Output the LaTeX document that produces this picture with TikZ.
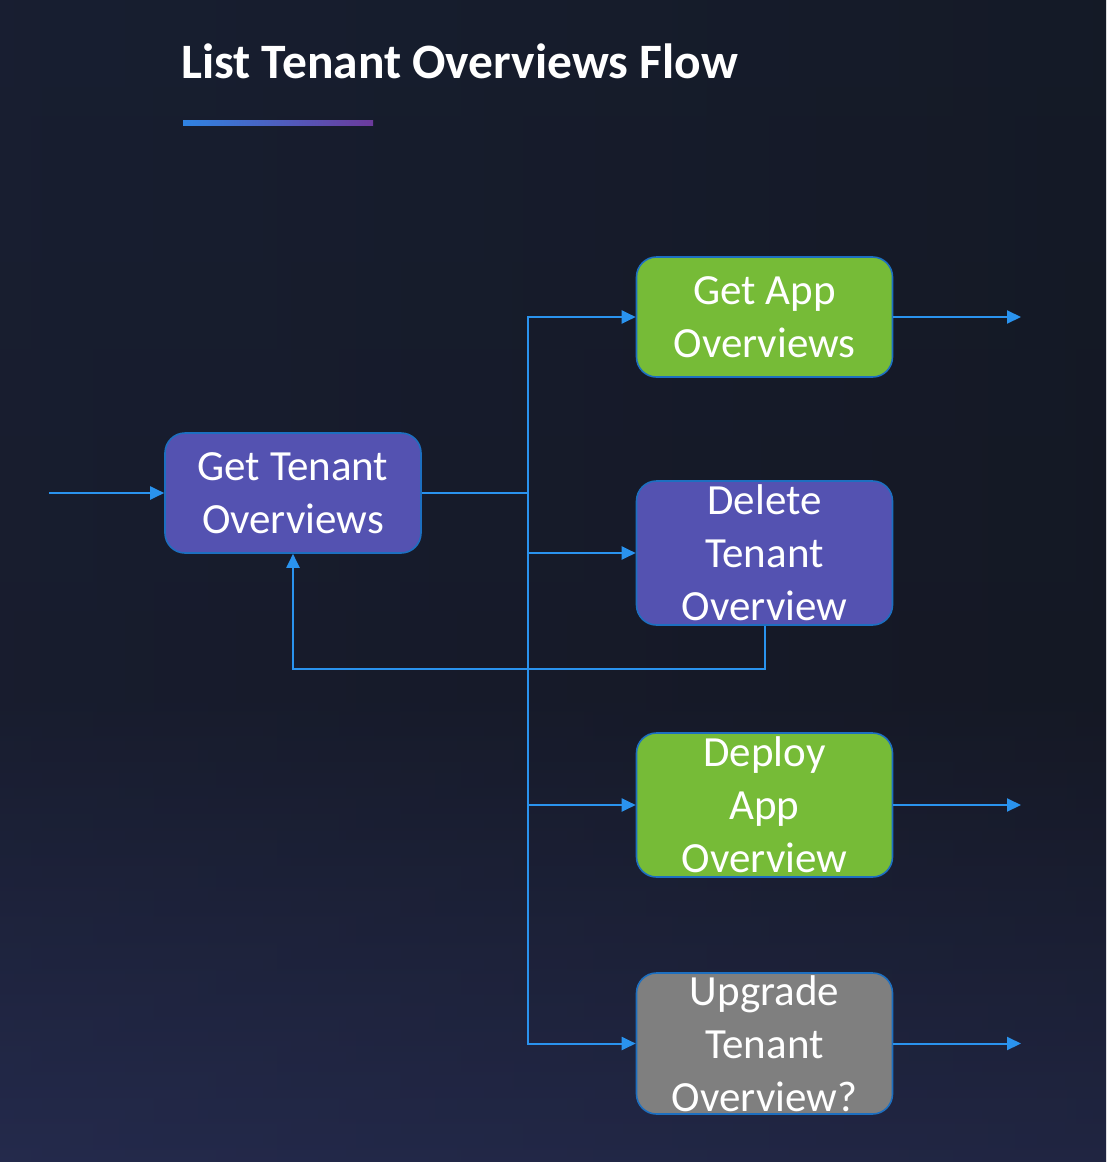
\documentclass[tikz,border=0pt]{standalone}
\usepackage{fontspec}
\setmainfont{Carlito}
\usetikzlibrary{arrows.meta}
\definecolor{bgtop}{HTML}{141B28}
\definecolor{bgmid}{HTML}{141824}
\definecolor{bgbot}{HTML}{242A4C}
\definecolor{bgright}{HTML}{161824}
\definecolor{boxpurple}{HTML}{5452B1}
\definecolor{boxgreen}{HTML}{76BB37}
\definecolor{boxgray}{HTML}{7F7F7F}
\definecolor{boxedge}{HTML}{1D6FC0}
\definecolor{flow}{HTML}{2A93EE}
\definecolor{gradA}{HTML}{2F83E2}
\definecolor{gradB}{HTML}{6C3A9C}
\pgfdeclareverticalshading{bgshade}{100bp}{color(0bp)=(bgbot); color(25bp)=(bgbot); color(45bp)=(bgmid); color(75bp)=(bgtop); color(100bp)=(bgtop)}
\tikzset{
  flowbox/.style={rounded corners=20pt, draw=boxedge, line width=1.6pt,
    minimum width=256pt, minimum height=#1, inner sep=0pt, align=center,
    text=white, font=\fontsize{43}{53}\selectfont},
  flowline/.style={draw=flow, line width=2pt},
  flowarrow/.style={flowline, -{Triangle[length=14pt,width=13pt]}}
}
\begin{document}
\begin{tikzpicture}[x=1pt,y=-1pt]
\useasboundingbox (0,0) rectangle (1106,1162);
\shade[shading=bgshade] (0,0) rectangle (1106,1162);
\shade[left color=bgbot, right color=bgright, opacity=0.25] (0,0) rectangle (1106,1162);
\node[anchor=base west, text=white, font=\fontsize{49.5}{58}\selectfont\bfseries, inner sep=0pt] (title) at (181,78) {List Tenant Overviews Flow};
\shade[left color=gradA, right color=gradB] (183,120) rectangle (373,125);

\node[flowbox=120pt, fill=boxpurple] (A) at (293,493) {Get Tenant\\Overviews};
\node[flowbox=120pt, fill=boxgreen] (B) at (764.5,317) {Get App\\Overviews};
\node[flowbox=144pt, fill=boxpurple] (C) at (764.5,553) {Delete\\Tenant\\Overview};
\node[flowbox=144pt, fill=boxgreen] (D) at (764.5,805) {Deploy\\App\\Overview};
\node[flowbox=141pt, fill=boxgray] (E) at (764.5,1043.5) {Upgrade\\Tenant\\Overview?};

\coordinate (in) at (49,493);
\coordinate (j) at (528,493);
\coordinate (bo) at (1021,317);
\coordinate (do) at (1021,805);
\coordinate (eo) at (1021,1043.5);

\draw[flowarrow] (in) -- (A.west);
\draw[flowline] (A.east) -- (j);
\draw[flowarrow] (j) |- (B.west);
\draw[flowarrow] (j) |- (C.west);
\draw[flowarrow] (j) |- (D.west);
\draw[flowarrow] (j) |- (E.west);
\draw[flowarrow] (C.south) -- ++(0,43) -| (A.south);
\draw[flowarrow] (B.east) -- (bo);
\draw[flowarrow] (D.east) -- (do);
\draw[flowarrow] (E.east) -- (eo);
\end{tikzpicture}
\end{document}
